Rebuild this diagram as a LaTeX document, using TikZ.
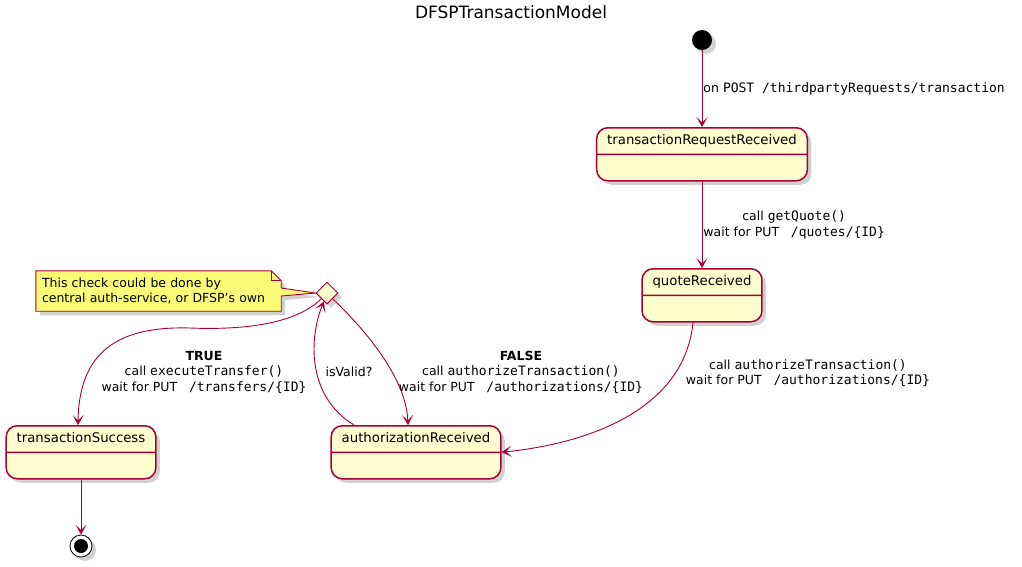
\documentclass[tikz,border=0pt]{standalone}
\usepackage{fontspec}
\setmainfont{DejaVu Sans}
\newfontfamily\codefont{DejaVu Sans Mono}
\usetikzlibrary{positioning,arrows.meta,calc,shapes.geometric,shapes.multipart,shadows,backgrounds}
\definecolor{umlred}{HTML}{A80036}
\definecolor{umlcream}{HTML}{FEFECE}
\definecolor{noteyellow}{HTML}{FBFB77}
\newcommand{\api}[1]{{\codefont\fontsize{13}{15.5}\selectfont #1}}
\tikzset{
  softshadow/.style={drop shadow={shadow xshift=4pt, shadow yshift=-4pt, fill=black!30, opacity=.6}},
  state/.style={rectangle split, rectangle split parts=2, draw=umlred, line width=1.5pt, fill=umlcream, rounded corners=11pt, inner xsep=10.5pt, inner ysep=4.5pt, font=\fontsize{13.3}{16}\selectfont, softshadow, anchor=north},
  choicebox/.style={diamond, aspect=1, draw=umlred, fill=umlcream, line width=1pt, minimum width=22pt, minimum height=22pt, inner sep=0pt, softshadow},
  startdot/.style={circle, fill=black, minimum size=20pt, inner sep=0pt, softshadow},
  stopdot/.style={circle, draw=black, fill=white, line width=0.8pt, minimum size=22pt, inner sep=0pt, softshadow, path picture={\fill[black] (path picture bounding box.center) circle (7pt);}},
  notebox/.style={text width=233pt, inner xsep=6pt, inner ysep=0pt, minimum height=40pt, align=left, font=\fontsize{12.5}{15.5}\selectfont},
  notefill/.style={draw=umlred, fill=noteyellow, line width=0.9pt},
  lbl/.style={font=\fontsize{12.5}{15.5}\selectfont, text=black, align=center, inner sep=1pt},
  arr/.style={-{Stealth[length=10pt, width=11pt, inset=5.5pt]}, umlred, line width=0.9pt}}

\begin{document}
\begin{tikzpicture}[x=1pt,y=-1pt]
\useasboundingbox (0,0) rectangle (1022,566);
\node[font=\fontsize{17}{20}\selectfont] (title) at (511,12) {DFSPTransactionModel};
% states
\node[startdot] (start) at (702,40) {};
\node[state] (trr) at (702,127) {\strut transactionRequestReceived\nodepart{two}\rule{0pt}{16pt}};
\node[state] (qr) at (702,268) {\strut quoteReceived\nodepart{two}\rule{0pt}{16pt}};
\node[state] (ar) at (416,425) {\strut authorizationReceived\nodepart{two}\rule{0pt}{16pt}};
\node[state] (ts) at (81,425) {\strut transactionSuccess\nodepart{two}\rule{0pt}{16pt}};
\node[choicebox] (dia) at (327,293) {};
\node[stopdot] (stop) at (81,546) {};
% note on the check
\node[notebox] (note) at (158.5,291) {This check could be done by\\central auth-service, or DFSP's own};
\begin{scope}[on background layer]
\draw[notefill, softshadow] (note.north west) -- ($(note.north east)+(-10,0)$) -- ($(note.north east)+(0,10)$)
  -- ($(note.east)+(0,-3)$) -- (dia.west) -- ($(note.east)+(0,5)$) -- (note.south east) -- (note.south west) -- cycle;
\end{scope}
\draw[notefill, fill=none] ($(note.north east)+(-10,0)$) |- ($(note.north east)+(0,10)$);
% transitions
\draw[arr] (start) -- node[lbl, right] {on \api{POST /thirdpartyRequests/transaction}} (trr);
\draw[arr] (trr) -- node[lbl, right] {call \api{getQuote()}\\wait for PUT \api{\ /quotes/\{ID\}}} (qr);
\draw[arr] ([xshift=-9pt]qr.south) .. controls +(-8,82) and +(97,-10) .. (ar.east);
\draw[arr] (dia.south west) .. controls (295,325) and (240,330) .. (190,328) .. controls (120,326) and (79,350) .. ([xshift=-3pt]ts.north);
\draw[arr] (dia.south east) .. controls (360,325) and (406,375) .. ([xshift=-8pt]ar.north);
\draw[arr] ([xshift=-62pt]ar.north) .. controls (305,395) and (310,335) .. (dia.250);
\draw[arr] (ts) -- (stop);
% transition labels
\node[lbl] (authlbl) at (808,373) {call \api{authorizeTransaction()}\\wait for PUT \api{\ /authorizations/\{ID\}}};
\node[lbl] (truelbl) at (204,372) {\textbf{TRUE}\\call \api{executeTransfer()}\\wait for PUT \api{\ /transfers/\{ID\}}};
\node[lbl] (falselbl) at (521,372) {\textbf{FALSE}\\call \api{authorizeTransaction()}\\wait for PUT \api{\ /authorizations/\{ID\}}};
\node[lbl] (validlbl) at (349,372) {isValid?};
\end{tikzpicture}
\end{document}
